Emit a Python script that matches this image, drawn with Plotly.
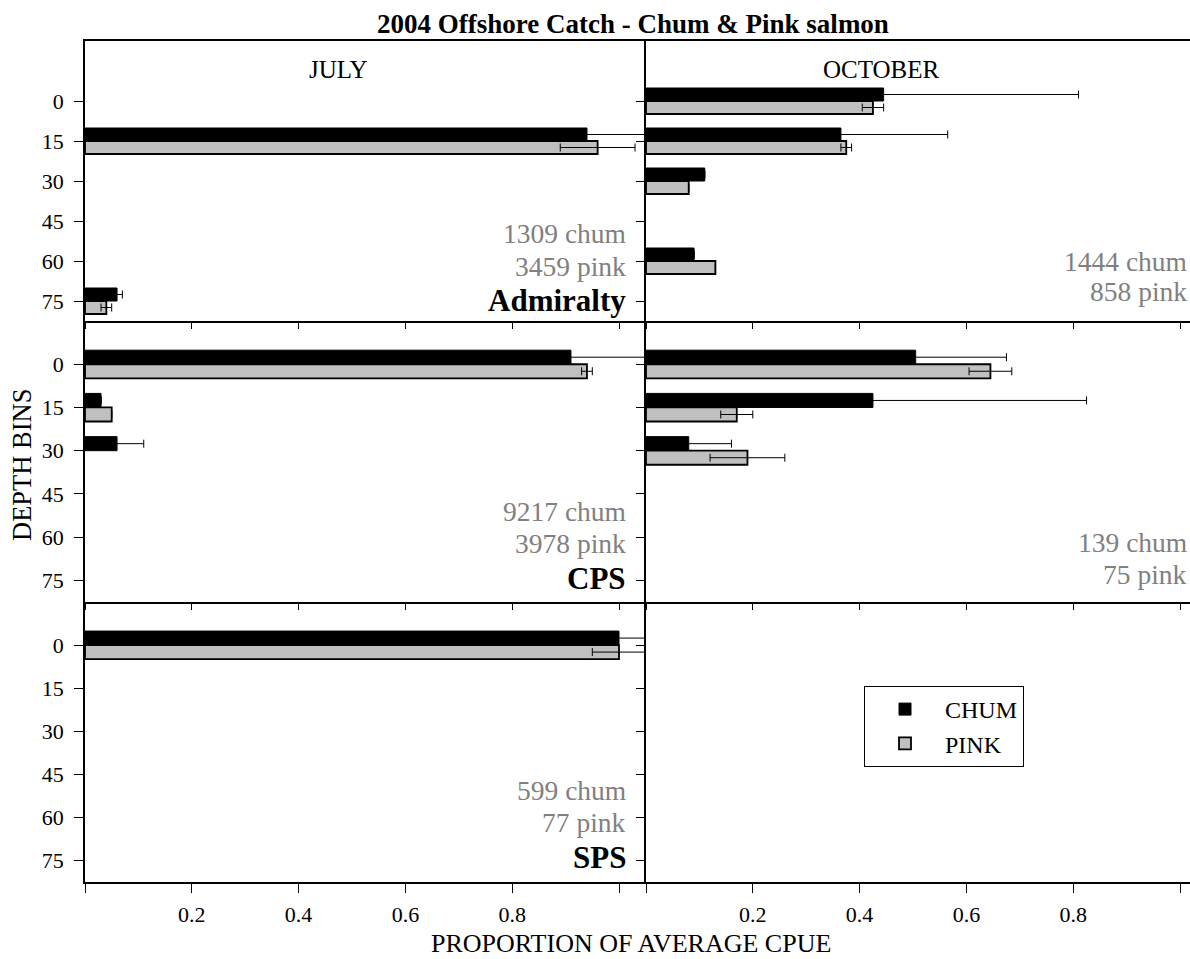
import plotly.graph_objects as go
from plotly.subplots import make_subplots

# ---------------- data ----------------
DEPTHS = ["0", "15", "30", "45", "60", "75"]
MONTHS = ["JULY", "OCTOBER"]
REGIONS = ["Admiralty", "CPS", "SPS"]

# proportion of average CPUE by depth bin (None = no catch)
JUL_ADM_CHUM = [None, 0.94, None, None, None, 0.06]
JUL_ADM_CHUM_ERR = [None, 0.15, None, None, None, 0.01]
JUL_ADM_PINK = [None, 0.96, None, None, None, 0.04]
JUL_ADM_PINK_ERR = [None, 0.07, None, None, None, 0.01]

OCT_ADM_CHUM = [0.445, 0.365, 0.11, None, 0.09, None]
OCT_ADM_CHUM_ERR = [0.365, 0.20, None, None, None, None]
OCT_ADM_PINK = [0.425, 0.375, 0.08, None, 0.13, None]
OCT_ADM_PINK_ERR = [0.02, 0.01, None, None, None, None]

JUL_CPS_CHUM = [0.91, 0.03, 0.06, None, None, None]
JUL_CPS_CHUM_ERR = [0.20, None, 0.05, None, None, None]
JUL_CPS_PINK = [0.94, 0.05, None, None, None, None]
JUL_CPS_PINK_ERR = [0.01, None, None, None, None, None]

OCT_CPS_CHUM = [0.505, 0.425, 0.08, None, None, None]
OCT_CPS_CHUM_ERR = [0.17, 0.40, 0.08, None, None, None]
OCT_CPS_PINK = [0.645, 0.17, 0.19, None, None, None]
OCT_CPS_PINK_ERR = [0.04, 0.03, 0.07, None, None, None]

JUL_SPS_CHUM = [1.0, None, None, None, None, None]
JUL_SPS_CHUM_ERR = [0.10, None, None, None, None, None]
JUL_SPS_PINK = [1.0, None, None, None, None, None]
JUL_SPS_PINK_ERR = [0.05, None, None, None, None, None]

OCT_SPS_CHUM = [None, None, None, None, None, None]
OCT_SPS_CHUM_ERR = [None, None, None, None, None, None]
OCT_SPS_PINK = [None, None, None, None, None, None]
OCT_SPS_PINK_ERR = [None, None, None, None, None, None]

# fish counts per panel [row][col]
CHUM_COUNTS = [[1309, 1444], [9217, 139], [599, None]]
PINK_COUNTS = [[3459, 858], [3978, 75], [77, None]]

X_TICKVALS = [0, 0.2, 0.4, 0.6, 0.8, 1.0]
X_TICKTEXT = ["", "0.2", "0.4", "0.6", "0.8", ""]

PANELS = [
    [(JUL_ADM_CHUM, JUL_ADM_CHUM_ERR, JUL_ADM_PINK, JUL_ADM_PINK_ERR),
     (OCT_ADM_CHUM, OCT_ADM_CHUM_ERR, OCT_ADM_PINK, OCT_ADM_PINK_ERR)],
    [(JUL_CPS_CHUM, JUL_CPS_CHUM_ERR, JUL_CPS_PINK, JUL_CPS_PINK_ERR),
     (OCT_CPS_CHUM, OCT_CPS_CHUM_ERR, OCT_CPS_PINK, OCT_CPS_PINK_ERR)],
    [(JUL_SPS_CHUM, JUL_SPS_CHUM_ERR, JUL_SPS_PINK, JUL_SPS_PINK_ERR),
     (OCT_SPS_CHUM, OCT_SPS_CHUM_ERR, OCT_SPS_PINK, OCT_SPS_PINK_ERR)],
]

# ---------------- layout geometry ----------------
W, H = 1190, 959
ML, MR, MT, MB = 85, 0, 41, 77
PW, PH = W - ML - MR, H - MT - MB
FONT = "Liberation Serif"
GRAY = "#808080"


def px(x):
    return (x - ML) / PW


def py(y):
    return (H - MB - y) / PH


fig = make_subplots(rows=3, cols=2, horizontal_spacing=0, vertical_spacing=0,
                    column_widths=[561, 544], row_heights=[280, 281, 280])

for r in range(3):
    for c in range(2):
        chum, chum_err, pink, pink_err = PANELS[r][c]
        first = (r == 0 and c == 0)
        fig.add_trace(go.Bar(
            y=DEPTHS, x=chum, orientation="h", name="CHUM", legendgroup="chum",
            showlegend=first,
            marker=dict(color="black", line=dict(color="black", width=1)),
            error_x=dict(type="data", array=chum_err, visible=True,
                         color="black", thickness=1, width=4),
        ), row=r + 1, col=c + 1)
        fig.add_trace(go.Bar(
            y=DEPTHS, x=pink, orientation="h", name="PINK", legendgroup="pink",
            showlegend=first,
            marker=dict(color="#c0c0c0", line=dict(color="black", width=1.8)),
            error_x=dict(type="data", array=pink_err, visible=True,
                         color="black", thickness=1, width=4),
        ), row=r + 1, col=c + 1)

        xrange = [0, 561 / 534] if c == 0 else [0, 544 / 534]
        fig.update_xaxes(
            range=xrange, tickvals=X_TICKVALS, ticktext=X_TICKTEXT,
            showticklabels=(r == 2), ticks="outside",
            ticklen=9 if r == 2 else 6, tickwidth=1, tickcolor="black",
            showline=True, linecolor="black", linewidth=1.5,
            mirror=(r == 0), showgrid=False, zeroline=False,
            ticklabelstandoff=3,
            tickfont=dict(family=FONT, size=22, color="black"),
            row=r + 1, col=c + 1)
        yrange = [5.5, -1.5] if r == 0 else [5.5, -1.0]
        fig.update_yaxes(
            type="category", categoryorder="array", categoryarray=DEPTHS,
            range=yrange, showticklabels=(c == 0), ticks="outside",
            ticklen=9 if c == 0 else 8, tickwidth=1, tickcolor="black",
            showline=True, linecolor="black", linewidth=1.5,
            showgrid=False, zeroline=False, ticklabelstandoff=6,
            tickfont=dict(family=FONT, size=22, color="black"),
            row=r + 1, col=c + 1)

annotations = []
# month headers
annotations.append(dict(text=MONTHS[0], x=px(338), y=py(69), xref="paper", yref="paper",
                        xanchor="center", yanchor="middle", showarrow=False,
                        font=dict(family=FONT, size=25, color="black")))
annotations.append(dict(text=MONTHS[1], x=px(881), y=py(69), xref="paper", yref="paper",
                        xanchor="center", yanchor="middle", showarrow=False,
                        font=dict(family=FONT, size=25, color="black")))

# counts and region names
count_y = [[(234, 266), (261, 291)], [(511, 543), (542, 574)], [(790, 822), None]]
region_y = [300, 578, 857]
for r in range(3):
    for c in range(2):
        if CHUM_COUNTS[r][c] is None:
            continue
        xr = 628 if c == 0 else 1189
        yc, yp = count_y[r][c]
        annotations.append(dict(text=f"{CHUM_COUNTS[r][c]} chum", x=px(xr), y=py(yc),
                                xref="paper", yref="paper", xanchor="right", yanchor="middle",
                                showarrow=False, font=dict(family=FONT, size=27.5, color=GRAY)))
        annotations.append(dict(text=f"{PINK_COUNTS[r][c]} pink", x=px(xr), y=py(yp),
                                xref="paper", yref="paper", xanchor="right", yanchor="middle",
                                showarrow=False, font=dict(family=FONT, size=27.5, color=GRAY)))
    annotations.append(dict(text=f"<b>{REGIONS[r]}</b>", x=px(628), y=py(region_y[r]),
                            xref="paper", yref="paper", xanchor="right", yanchor="middle",
                            showarrow=False, font=dict(family=FONT, size=31, color="black")))

# axis titles
annotations.append(dict(text="DEPTH BINS", x=px(22), y=py(465), xref="paper", yref="paper",
                        xanchor="center", yanchor="middle", textangle=-90, showarrow=False,
                        font=dict(family=FONT, size=26.5, color="black")))
annotations.append(dict(text="PROPORTION OF AVERAGE CPUE", x=px(631), y=py(943),
                        xref="paper", yref="paper", xanchor="center", yanchor="middle",
                        showarrow=False, font=dict(family=FONT, size=26, color="black")))

fig.update_layout(
    width=W, height=H,
    margin=dict(l=ML, r=MR, t=MT, b=MB),
    paper_bgcolor="white", plot_bgcolor="white",
    barmode="group", bargap=0.35, bargroupgap=0,
    title=dict(text="<b>2004 Offshore Catch - Chum & Pink salmon</b>",
               x=px(633), xref="paper", xanchor="center",
               y=1 - 24 / H, yref="container", yanchor="middle",
               font=dict(family=FONT, size=27, color="black")),
    legend=dict(x=px(864), y=py(686), xanchor="left", yanchor="top",
                bordercolor="black", borderwidth=1, bgcolor="white",
                traceorder="normal", itemwidth=70,
                font=dict(family=FONT, size=24, color="black")),
    annotations=annotations,
    font=dict(family=FONT, color="black"),
)

fig.write_html("out.html", config={"displayModeBar": False},
               post_script="document.body.style.margin='0px';")
